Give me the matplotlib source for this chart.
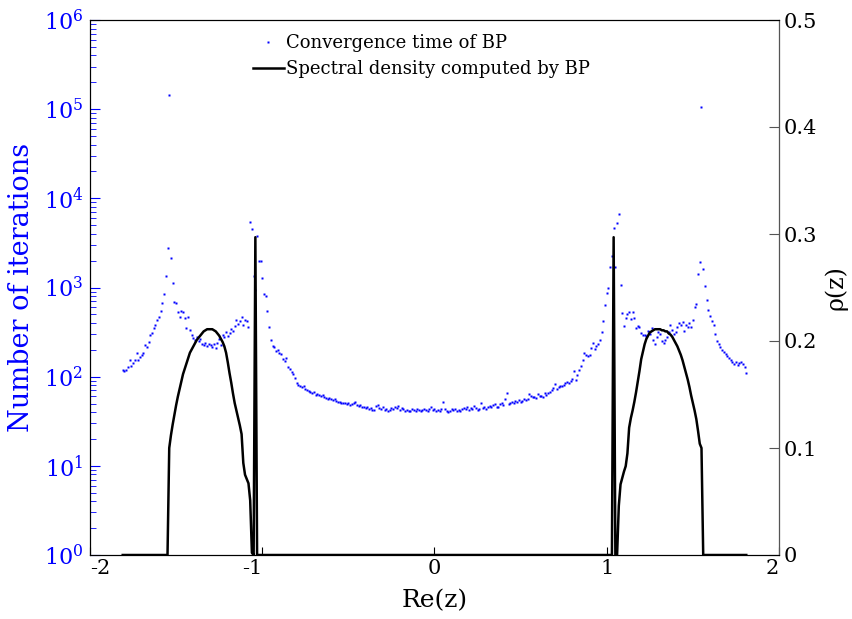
import numpy as np
import matplotlib
matplotlib.use('Agg')
import matplotlib.pyplot as plt
from matplotlib.ticker import LogLocator, NullFormatter

plt.rcParams['font.family'] = ['DejaVu Serif']
plt.rcParams['mathtext.fontset'] = 'dejavuserif'
plt.rcParams['axes.unicode_minus'] = False

# ---------------- data ----------------
x_start = -1.81
x_step = 0.01
# log10(number of iterations), one value per x step from -1.81 to 1.81
log_iters = [
    2.08, 2.06, 2.07, 2.11, 2.19, 2.12, 2.15, 2.19, 2.27, 2.19,   # -1.81
    2.22, 2.24, 2.27, 2.35, 2.33, 2.39, 2.47, 2.49, 2.55, 2.58,   # -1.71
    2.63, 2.67, 2.74, 2.83, 2.93, 3.13, 3.44, 5.16, 3.33, 3.05,   # -1.61
    2.84, 2.83, 2.72, 2.67, 2.74, 2.73, 2.66, 2.55, 2.67, 2.52,   # -1.51
    2.47, 2.43, 2.41, 2.44, 2.40, 2.42, 2.37, 2.35, 2.38, 2.34,   # -1.41
    2.37, 2.36, 2.33, 2.37, 2.32, 2.38, 2.42, 2.36, 2.47, 2.44,   # -1.31
    2.50, 2.46, 2.49, 2.54, 2.51, 2.57, 2.64, 2.59, 2.62, 2.67,   # -1.21
    2.58, 2.63, 2.62, 2.56, 3.73, 3.66, 3.13, 2.97, 3.58, 3.30,   # -1.11
    3.30, 3.11, 2.93, 2.90, 2.74, 2.56, 2.41, 2.34, 2.33, 2.29,   # -1.01
    2.30, 2.27, 2.25, 2.20, 2.18, 2.21, 2.11, 2.09, 2.05, 2.03,   # -0.91
    1.99, 1.93, 1.91, 1.89, 1.88, 1.90, 1.86, 1.85, 1.84, 1.83,   # -0.81
    1.82, 1.83, 1.80, 1.81, 1.79, 1.78, 1.79, 1.77, 1.76, 1.75,   # -0.71
    1.76, 1.75, 1.74, 1.75, 1.73, 1.72, 1.72, 1.70, 1.71, 1.70,   # -0.61
    1.69, 1.70, 1.68, 1.69, 1.70, 1.72, 1.68, 1.67, 1.68, 1.66,   # -0.51
    1.66, 1.65, 1.66, 1.64, 1.65, 1.63, 1.63, 1.67, 1.68, 1.65,   # -0.41
    1.64, 1.66, 1.63, 1.64, 1.62, 1.63, 1.65, 1.64, 1.66, 1.65,   # -0.31
    1.67, 1.63, 1.65, 1.64, 1.62, 1.63, 1.61, 1.62, 1.64, 1.63,   # -0.21
    1.62, 1.64, 1.63, 1.61, 1.63, 1.64, 1.63, 1.62, 1.64, 1.66,   # -0.11
    1.63, 1.64, 1.62, 1.63, 1.61, 1.64, 1.72, 1.64, 1.62, 1.60,   # -0.01
    1.62, 1.64, 1.63, 1.64, 1.62, 1.63, 1.62, 1.64, 1.65, 1.64,   #  0.09
    1.66, 1.63, 1.65, 1.64, 1.67, 1.65, 1.63, 1.64, 1.70, 1.65,   #  0.19
    1.66, 1.64, 1.66, 1.67, 1.66, 1.68, 1.69, 1.66, 1.66, 1.69,   #  0.29
    1.70, 1.68, 1.75, 1.82, 1.69, 1.70, 1.72, 1.71, 1.73, 1.72,   #  0.39
    1.74, 1.72, 1.73, 1.75, 1.74, 1.75, 1.81, 1.78, 1.77, 1.77,   #  0.49
    1.76, 1.81, 1.78, 1.78, 1.77, 1.82, 1.80, 1.82, 1.83, 1.85,   #  0.59
    1.87, 1.92, 1.86, 1.88, 1.89, 1.90, 1.91, 1.93, 1.94, 1.93,   #  0.69
    1.95, 1.97, 2.06, 1.96, 2.02, 2.07, 2.12, 2.19, 2.26, 2.24,   #  0.79
    2.23, 2.24, 2.32, 2.38, 2.31, 2.34, 2.37, 2.41, 2.50, 2.62,   #  0.89
    2.80, 2.94, 3.00, 3.23, 3.35, 3.67, 3.23, 3.72, 3.82, 3.03,   #  0.99
    2.71, 2.57, 2.66, 2.70, 2.72, 2.65, 2.73, 2.66, 2.55, 2.57,   #  1.09
    2.56, 2.49, 2.47, 2.47, 2.46, 2.51, 2.48, 2.55, 2.41, 2.37,   #  1.19
    2.45, 2.50, 2.48, 2.40, 2.38, 2.41, 2.45, 2.50, 2.58, 2.52,   #  1.29
    2.48, 2.50, 2.56, 2.60, 2.58, 2.61, 2.51, 2.58, 2.56, 2.60,   #  1.39
    2.56, 2.64, 2.78, 2.81, 3.15, 3.29, 5.02, 3.21, 3.02, 2.86,   #  1.49
    2.75, 2.68, 2.62, 2.58, 2.48, 2.40, 2.37, 2.33, 2.30, 2.28,   #  1.59
    2.25, 2.23, 2.21, 2.19, 2.17, 2.14, 2.16, 2.13, 2.15, 2.16,   #  1.69
    2.14, 2.11, 2.04,                                             #  1.79
]

rho_x = [-1.81, -1.55,
         -1.54, -1.53, -1.52, -1.51, -1.50, -1.49, -1.48, -1.47, -1.46, -1.45,
         -1.44, -1.43, -1.42, -1.41, -1.40, -1.39, -1.38, -1.37, -1.36, -1.35,
         -1.34, -1.33, -1.32, -1.31, -1.30, -1.29, -1.28, -1.27, -1.26, -1.25,
         -1.24, -1.23, -1.22, -1.21, -1.20, -1.19, -1.18, -1.17, -1.16, -1.15,
         -1.14, -1.13, -1.12, -1.11, -1.10, -1.09, -1.08, -1.07, -1.06, -1.05,
         -1.04, -1.03,
         1.03, 1.04, 1.05, 1.06,
         1.07, 1.08, 1.09, 1.10, 1.11, 1.12, 1.13, 1.14, 1.15, 1.16,
         1.17, 1.18, 1.19, 1.20, 1.21, 1.22, 1.23, 1.24, 1.25, 1.26,
         1.27, 1.28, 1.29, 1.30, 1.31, 1.32, 1.33, 1.34, 1.35, 1.36,
         1.37, 1.38, 1.39, 1.40, 1.41, 1.42, 1.43, 1.44, 1.45, 1.46,
         1.47, 1.48, 1.49, 1.50, 1.51, 1.52, 1.53, 1.54, 1.55, 1.56,
         1.81]
rho_y = [0.0, 0.0,
         0.100, 0.112, 0.122, 0.131, 0.140, 0.148, 0.155, 0.162, 0.169, 0.174,
         0.179, 0.184, 0.189, 0.192, 0.195, 0.198, 0.201, 0.203, 0.205, 0.207,
         0.209, 0.210, 0.211, 0.211, 0.211, 0.211, 0.210, 0.209, 0.207, 0.205,
         0.202, 0.199, 0.195, 0.189, 0.180, 0.170, 0.161, 0.151, 0.142, 0.135,
         0.128, 0.121, 0.113, 0.086, 0.075, 0.071, 0.067, 0.051, 0.002, 0.0,
         0.297, 0.0,
         0.0, 0.297, 0.0, 0.0,
         0.046, 0.066, 0.072, 0.078, 0.083, 0.095, 0.119, 0.128, 0.135, 0.143,
         0.152, 0.162, 0.172, 0.183, 0.190, 0.197, 0.202, 0.205, 0.208, 0.209,
         0.210, 0.211, 0.211, 0.211, 0.211, 0.210, 0.210, 0.209, 0.209, 0.207,
         0.206, 0.204, 0.201, 0.198, 0.195, 0.191, 0.187, 0.182, 0.176, 0.170,
         0.164, 0.157, 0.149, 0.142, 0.135, 0.127, 0.116, 0.104, 0.100, 0.0,
         0.0]

x_ticks = [-2, -1, 0, 1, 2]
x_ticklabels = ['-2', '-1', '0', '1', '2']
rho_ticks = [0, 0.1, 0.2, 0.3, 0.4, 0.5]
rho_ticklabels = ['0', '0.1', '0.2', '0.3', '0.4', '0.5']

label_dots = 'Convergence time of BP'
label_line = 'Spectral density computed by BP'

# ---------------- plot ----------------
x_iter = np.round(x_start + x_step * np.arange(len(log_iters)), 2)
iters = 10.0 ** np.array(log_iters)

fig = plt.figure(figsize=(8.52, 6.19), dpi=100)
W, H = 852, 619
ax1 = fig.add_axes([90 / W, 64 / H, 689 / W, 535 / H])
h1, = ax1.semilogy(x_iter, iters, linestyle='none', marker='s', ms=1.7,
                   mec='none', color='blue', label=label_dots)
ax1.set_xlim(-2, 2)
ax1.set_ylim(1, 1e6)
ax1.set_xticks(x_ticks)
ax1.set_xticklabels(x_ticklabels)
# label alignment as in the reference rendering
for lab, ha in zip(ax1.get_xticklabels(), ['left', 'right', 'center', 'center', 'right']):
    lab.set_horizontalalignment(ha)
ax1.yaxis.set_major_locator(LogLocator(base=10, numticks=10))
ax1.yaxis.set_minor_locator(LogLocator(base=10, subs=np.arange(2, 10), numticks=10))
ax1.yaxis.set_minor_formatter(NullFormatter())
ax1.tick_params(axis='y', which='major', direction='in', length=7, color='blue',
                labelcolor='blue', labelsize=16, pad=5)
ax1.tick_params(axis='y', which='minor', direction='in', length=4, color='blue')
ax1.tick_params(axis='x', direction='in', length=6, labelsize=15, pad=3)
ax1.set_ylabel('Number of iterations', color='blue', fontsize=19.5, labelpad=6)
ax1.set_xlabel('Re(z)', fontsize=18, labelpad=8)
for s in ['left', 'bottom', 'top']:
    ax1.spines[s].set_color('black')

ax2 = ax1.twinx()
h2, = ax2.plot(rho_x, rho_y, color='black', lw=1.8, label=label_line)
ax2.set_ylim(0, 0.5)
ax2.set_yticks(rho_ticks)
ax2.set_yticklabels(rho_ticklabels)
ax2.tick_params(axis='y', direction='in', length=7, color='#555555',
                labelcolor='black', labelsize=15, pad=3)
ax2.spines['right'].set_color('#555555')
ax2.set_ylabel('ρ(z)', fontsize=17, labelpad=5)

leg = ax2.legend([h1, h2], [label_dots, label_line], loc='upper left',
                 bbox_to_anchor=(253 / W, 1 - 34 / H), bbox_transform=fig.transFigure,
                 frameon=False, fontsize=13, handlelength=1.7, handletextpad=0.15,
                 labelspacing=0.45, borderaxespad=0, borderpad=0, markerscale=1.0)

fig.savefig('out.png', dpi=100)
